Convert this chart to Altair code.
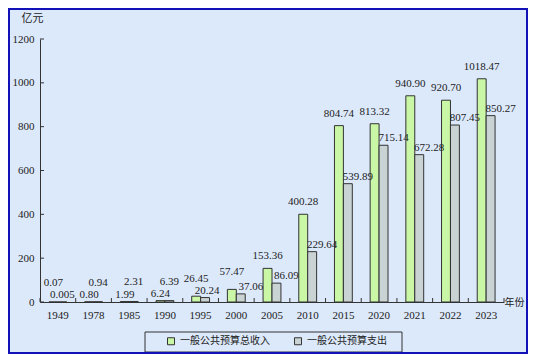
import altair as alt
import pandas as pd

years = ["1949", "1978", "1985", "1990", "1995", "2000", "2005",
         "2010", "2015", "2020", "2021", "2022", "2023"]
revenue = [0.07, 0.80, 1.99, 6.24, 26.45, 57.47, 153.36,
           400.28, 804.74, 813.32, 940.90, 920.70, 1018.47]
expenditure = [0.005, 0.94, 2.31, 6.39, 20.24, 37.06, 86.09,
               229.64, 539.89, 715.14, 672.28, 807.45, 850.27]
groups = ["一般公共预算总收入", "一般公共预算支出"]
colors = ["#c9f7a6", "#c9d3d3"]
y_ticks = [0, 200, 400, 600, 800, 1000, 1200]

rows = []
for i, yr in enumerate(years):
    r, e = revenue[i], expenditure[i]
    top = max(r, e)
    for g, v in ((groups[0], r), (groups[1], e)):
        if top < 10:
            pos = "hi" if v == top else "lo"
        elif g == groups[0]:
            pos = "rev_mid" if top < 100 else "rev"
        elif v >= 30:
            pos = "exp"
        else:
            pos = "exp_s"
        lab = f"{v:.2f}" if v >= 0.01 else f"{v:.3f}"
        rows.append(dict(year=yr, group=g, value=v, label=lab, pos=pos))
df = pd.DataFrame(rows)

FONT_NUM = "Liberation Serif"
FONT_CJK = "Noto Sans CJK SC"
INK = "#222222"
LINE = "#333333"
W, H = 464, 263
PAD = {"left": 32, "top": 31, "right": 24, "bottom": 52}

xs = alt.Scale(domain=years, paddingInner=0.5, paddingOuter=0.25)
ys = alt.Scale(domain=[0, 1200], nice=False)
xo = alt.Scale(domain=groups, paddingInner=0, paddingOuter=0)

x_axis = alt.Axis(title="年份", titleAngle=0, titleX=464, titleY=0,
                  titleAlign="left", titleBaseline="middle",
                  titleFont=FONT_CJK, titleFontSize=10, titleFontWeight="normal",
                  titleColor=INK, labelAngle=0, labelFont=FONT_NUM,
                  labelFontSize=11, labelColor=INK, labelPadding=7,
                  ticks=False, domainColor=LINE, domainWidth=1, grid=False)
y_axis = alt.Axis(values=y_ticks, format="d", title="亿元", titleAngle=0, titleX=-8, titleY=-21,
                  titleAlign="center", titleBaseline="middle",
                  titleFont=FONT_CJK, titleFontSize=11, titleFontWeight="normal",
                  titleColor=INK, labelFont=FONT_NUM, labelFontSize=11,
                  labelColor=INK, labelPadding=6, ticks=False,
                  domainColor=LINE, domainWidth=1, grid=False)

X = alt.X("year:N", scale=xs, sort=years, axis=x_axis)
XO = alt.XOffset("group:N", scale=xo, sort=groups)
Y = alt.Y("value:Q", scale=ys, axis=y_axis)

bars = alt.Chart(df).mark_bar(stroke=LINE, strokeWidth=1).encode(
    x=X, xOffset=XO, y=Y,
    color=alt.Color("group:N", scale=alt.Scale(domain=groups, range=colors),
                    legend=alt.Legend(orient="none", legendX=126, legendY=297,
                                      direction="horizontal", title=None,
                                      symbolType="square", symbolSize=49,
                                      symbolStrokeColor=LINE, symbolStrokeWidth=1,
                                      labelFont=FONT_CJK, labelFontSize=10,
                                      labelColor=INK, labelOffset=4,
                                      columnPadding=22, padding=0, labelLimit=300)),
)

offsets = {"rev": (0, -12), "rev_mid": (0, -17), "exp": (10, -7), "exp_s": (2, -7),
           "hi": (0, -19), "lo": (0, -7)}
texts = []
for p, (dx, dy) in offsets.items():
    texts.append(
        alt.Chart(df).transform_filter(alt.datum.pos == p)
        .mark_text(dx=dx, dy=dy, font=FONT_NUM, fontSize=11, color=INK, baseline="middle")
        .encode(x=X, xOffset=XO, y=Y, text="label:N")
    )

ytick_rules = alt.Chart(pd.DataFrame({"value": y_ticks})).mark_rule(color=LINE).encode(
    y=Y, x=alt.value(0), x2=alt.value(4))

bounds = pd.DataFrame({"b": list(range(len(years) + 1))})
xtick_rules = alt.Chart(bounds).mark_rule(color=LINE).encode(
    x=alt.X("b:Q", scale=alt.Scale(domain=[0, len(years)], nice=False, zero=False), axis=None),
    y=alt.value(H - 4), y2=alt.value(H))

one = pd.DataFrame({"k": [0]})
legend_box = alt.Chart(one).mark_rect(fill="transparent", stroke=LINE, strokeWidth=1).encode(
    x=alt.value(105), x2=alt.value(362), y=alt.value(293), y2=alt.value(313))
border = alt.Chart(one).mark_rect(fill="transparent", stroke="#1212b8", strokeWidth=2).encode(
    x=alt.value(1 - PAD["left"]), x2=alt.value(W + PAD["right"] - 1),
    y=alt.value(1 - PAD["top"]), y2=alt.value(H + PAD["bottom"] - 1))

main = alt.layer(bars, *texts, ytick_rules)
chart = alt.layer(main, xtick_rules, legend_box, border).resolve_scale(
    x="independent"
).properties(
    width=W, height=H, padding=PAD,
    autosize=alt.AutoSizeParams(type="none"),
).configure(background="#dce9fb").configure_view(stroke=None)

chart.save("out.html", embed_options={"renderer": "svg", "actions": False})
